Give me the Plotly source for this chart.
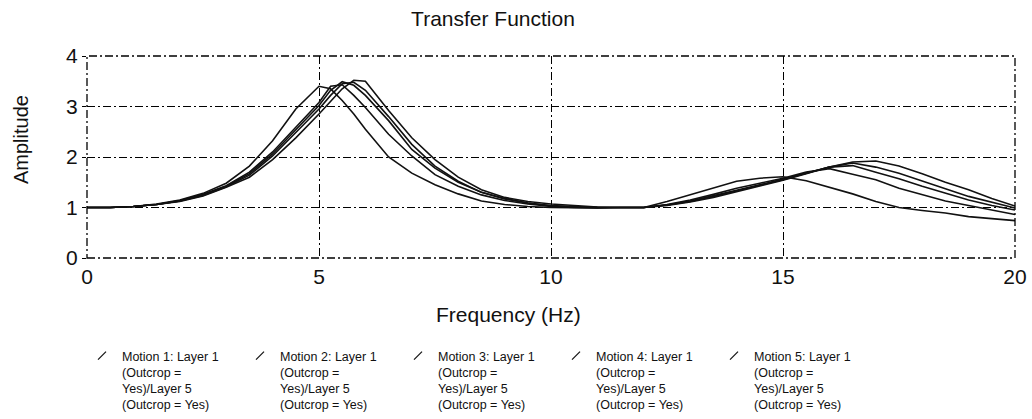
import plotly.graph_objects as go

# ---- data ----
freq = [0, 0.5, 1, 1.5, 2, 2.5, 3, 3.5, 4, 4.5, 5, 5.25, 5.5, 5.75, 6, 6.5, 7, 7.5, 8, 8.5,
        9, 9.5, 10, 10.5, 11, 11.5, 12, 12.5, 13, 13.5, 14, 14.5, 15, 15.5, 16, 16.5, 17,
        17.5, 18, 18.5, 19, 19.5, 20]

motion1 = [1.0, 1.0, 1.02, 1.07, 1.15, 1.28, 1.48, 1.82, 2.32, 2.95, 3.40, 3.35, 3.12, 2.85, 2.55, 2.0, 1.68, 1.45, 1.27, 1.13,
           1.06, 1.02, 1.0, 0.99, 0.99, 1.0, 1.0, 1.12, 1.25, 1.38, 1.52, 1.58, 1.61, 1.53, 1.40, 1.27, 1.12,
           1.0, 0.94, 0.89, 0.82, 0.78, 0.74]
motion2 = [1.0, 1.0, 1.02, 1.06, 1.14, 1.26, 1.43, 1.70, 2.10, 2.60, 3.08, 3.40, 3.43, 3.22, 2.98, 2.45, 2.02, 1.65, 1.42, 1.25,
           1.14, 1.07, 1.02, 1.0, 0.99, 1.0, 1.0, 1.06, 1.15, 1.26, 1.38, 1.48, 1.58, 1.70, 1.77, 1.66, 1.55,
           1.38, 1.25, 1.13, 1.04, 0.95, 0.86]
motion3 = [1.0, 1.0, 1.02, 1.06, 1.13, 1.25, 1.42, 1.67, 2.06, 2.55, 3.02, 3.32, 3.49, 3.42, 3.22, 2.72, 2.15, 1.78, 1.50, 1.30,
           1.18, 1.09, 1.03, 1.01, 1.0, 1.0, 1.0, 1.05, 1.13, 1.23, 1.34, 1.45, 1.56, 1.68, 1.80, 1.83, 1.70,
           1.57, 1.42, 1.28, 1.15, 1.04, 0.95]
motion4 = [1.0, 1.0, 1.02, 1.06, 1.13, 1.24, 1.41, 1.64, 2.02, 2.48, 2.95, 3.22, 3.45, 3.48, 3.32, 2.80, 2.25, 1.82, 1.52, 1.30,
           1.17, 1.09, 1.04, 1.02, 1.0, 1.0, 1.0, 1.05, 1.12, 1.22, 1.33, 1.44, 1.55, 1.68, 1.80, 1.88, 1.80,
           1.68, 1.52, 1.37, 1.22, 1.10, 0.99]
motion5 = [1.0, 1.0, 1.02, 1.06, 1.12, 1.23, 1.40, 1.60, 1.95, 2.38, 2.85, 3.10, 3.35, 3.52, 3.50, 2.92, 2.38, 1.95, 1.60, 1.35,
           1.20, 1.12, 1.07, 1.04, 1.01, 1.0, 1.0, 1.04, 1.11, 1.20, 1.31, 1.42, 1.54, 1.67, 1.80, 1.90, 1.92,
           1.82, 1.67, 1.50, 1.35, 1.18, 1.03]

series = [motion1, motion2, motion3, motion4, motion5]
names = [
    f"Motion {i}: Layer 1<br>(Outcrop =<br>Yes)/Layer 5<br>(Outcrop = Yes)" for i in range(1, 6)
]

x_ticks = [0, 5, 10, 15, 20]
y_ticks = [0, 1, 2, 3, 4]

FONT = "Liberation Sans, Arial, sans-serif"
DASH = "8px,3px,2px,3px"
INK = "#111111"

fig = go.Figure()
for i, (vals, name) in enumerate(zip(series, names)):
    fig.add_trace(go.Scatter(
        x=freq, y=vals, mode="lines", name=name, legendgroup=f"m{i}",
        showlegend=False, line=dict(color=INK, width=1.6),
    ))
    # legend entry with a slanted line symbol, tied to the drawn curve
    fig.add_trace(go.Scatter(
        x=[None], y=[None], mode="markers", name=name, legendgroup=f"m{i}",
        marker=dict(symbol="line-ne", size=8, color=INK,
                    line=dict(color=INK, width=1.3)),
    ))

fig.update_layout(
    width=1032, height=419,
    margin=dict(l=87, r=17, t=56, b=161, autoexpand=False),
    paper_bgcolor="white", plot_bgcolor="white",
    font=dict(family=FONT, color=INK, size=20),
    title=dict(text="Transfer Function", x=493 / 1032, xanchor="center",
               y=1 - 19 / 419, yanchor="middle", yref="container",
               font=dict(size=21, family=FONT, color=INK)),
    showlegend=True,
    legend=dict(orientation="h", xref="container", yref="container",
                x=82 / 1032, y=1 - 341 / 419, xanchor="left", yanchor="top",
                entrywidth=113, entrywidthmode="pixels", itemwidth=30,
                valign="top",
                font=dict(size=12.5, family=FONT, color=INK),
                bgcolor="rgba(0,0,0,0)", tracegroupgap=0),
    shapes=[dict(type="rect", xref="paper", yref="paper", x0=0, y0=0, x1=1, y1=1,
                 line=dict(color="black", width=1.3, dash=DASH), layer="above")],
    annotations=[
        dict(text="Frequency (Hz)", xref="paper", yref="paper",
             x=(508 - 87) / 928, y=(258 - 314) / 202, xanchor="center", yanchor="middle",
             showarrow=False, font=dict(size=21, family=FONT, color=INK)),
        dict(text="Amplitude", xref="paper", yref="paper", textangle=-90,
             x=(21 - 87) / 928, y=(258 - 140) / 202, xanchor="center", yanchor="middle",
             showarrow=False, font=dict(size=20, family=FONT, color=INK)),
    ],
)

fig.update_xaxes(
    range=[0, 20], tickvals=x_ticks, ticktext=[str(v) for v in x_ticks],
    showgrid=True, gridcolor="black", gridwidth=1.3, griddash=DASH,
    zeroline=False, showline=False, ticks="", ticklabelstandoff=4,
    automargin=False,
    tickfont=dict(size=21, family=FONT, color=INK),
)
fig.update_yaxes(
    range=[0, 4], tickvals=y_ticks, ticktext=[str(v) for v in y_ticks],
    showgrid=True, gridcolor="black", gridwidth=1.3, griddash=DASH,
    zeroline=False, showline=False, ticks="outside", ticklen=4, tickcolor="black",
    automargin=False,
    tickfont=dict(size=21, family=FONT, color=INK),
)

fig.write_html("out.html")
